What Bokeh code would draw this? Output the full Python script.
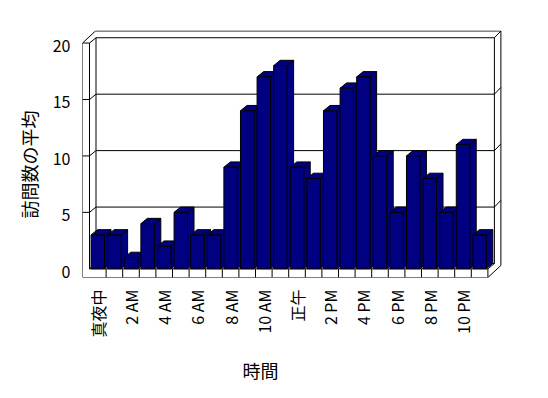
import math
from bokeh.plotting import figure
from bokeh.models import Range1d, FixedTicker, Title, LinearAxis
from bokeh.embed import file_html
from bokeh.resources import INLINE

# ---- data ----
hours = list(range(24))
visits = [3, 3, 1, 4, 2, 5, 3, 3, 9, 14, 17, 18, 9, 8, 14, 16, 17, 10, 5, 10, 8, 5, 11, 3]
tick_positions = [0, 2, 4, 6, 8, 10, 12, 14, 16, 18, 20, 22]
tick_labels = ["真夜中", "2 AM", "4 AM", "6 AM", "8 AM", "10 AM", "正午",
               "2 PM", "4 PM", "6 PM", "8 PM", "10 PM"]
y_ticks = [0, 5, 10, 15, 20]
y_title = "訪問数の平均"
x_title = "時間"

FONT = "Noto Sans CJK JP"
BAR_COLOR = "#000080"

# ---- geometry (pixel sizes converted to data units) ----
N = len(visits)
YMAX = y_ticks[-1]
PXX, PXY = 16.6, 11.7          # pixels per category / per value unit
WL = 7 / PXX                   # left wall thickness
WF = 9 / PXY                   # floor thickness
DX, DY = 6.5 / PXX, 5.5 / PXY  # depth offset
BX, BY = 6.5 / PXX, 7 / PXY    # back wall thickness
BAR_W = 0.81
LABEL_SHIFT = 3 / PXY          # nudge y tick labels down to sit on their lines

x0, x1 = -0.5, N - 0.5
xl = x0 - WL
W, H = 548, 398
LEFT, TOP = 82, 30
FRAME_W, FRAME_H = 420, 256
x_start = xl
x_end = x_start + FRAME_W / PXX
y_start = -WF
y_end = y_start + FRAME_H / PXY

p = figure(width=W, height=H, output_backend="svg", toolbar_location=None,
           x_range=Range1d(x_start, x_end), y_range=Range1d(y_start, y_end),
           y_axis_location=None,
           min_border_left=LEFT, min_border_right=W - LEFT - FRAME_W,
           min_border_top=TOP, min_border_bottom=H - TOP - FRAME_H)
p.extra_y_ranges = {"lab": Range1d(y_start + LABEL_SHIFT, y_end + LABEL_SHIFT)}
p.outline_line_color = None
p.grid.visible = False
p.background_fill_color = "white"
p.border_fill_color = "white"

# ---- box / walls / floor lines ----
T = YMAX
segs = [
    [(xl, T), (xl, -WF)],
    [(x0, T), (x0, 0)],
    [(xl, T), (x0, T)],
    [(xl, T), (xl + DX + BX, T + DY + BY)],
    [(x0, T), (x0 + DX, T + DY)],
    [(x0 + DX, T + DY), (x1 + DX, T + DY)],
    [(xl + DX + BX, T + DY + BY), (x1 + DX + BX, T + DY + BY)],
    [(x0 + DX, T + DY), (x0 + DX, DY)],
    [(x0, 0), (x0 + DX, DY), (x1 + DX, DY)],
    [(x1 + DX, T + DY), (x1 + DX, DY), (x1, 0)],
    [(x1 + DX, T + DY), (x1 + DX + BX, T + DY + BY),
     (x1 + DX + BX, DY + BY - WF), (x1, -WF)],
    [(x0, 0), (x1, 0)],
    [(xl, -WF), (x1, -WF)],
    [(x1, 0), (x1, -WF)],
]
for k in range(1, N):
    segs.append([(x0 + k, 0), (x0 + k, -WF)])
for v in y_ticks[1:-1]:
    segs.append([(xl, v), (x0, v), (x0 + DX, v + DY), (x1 + DX, v + DY),
                 (x1 + DX + BX, v + DY + BY)])

p.multi_line(xs=[[pt[0] for pt in s] for s in segs],
             ys=[[pt[1] for pt in s] for s in segs],
             line_color="black", line_width=1)

# ---- 3D bars (side, top, front for each bar, in order) ----
pxs, pys = [], []
for k, v in zip(hours, visits):
    l, r = k - BAR_W / 2, k + BAR_W / 2
    pxs.append([r, r, r + DX, r + DX]); pys.append([0, v, v + DY, DY])
    pxs.append([l, r, r + DX, l + DX]); pys.append([v, v, v + DY, v + DY])
    pxs.append([l, r, r, l]); pys.append([0, 0, v, v])
p.patches(xs=pxs, ys=pys, fill_color=BAR_COLOR, line_color="black", line_width=1)

# ---- axes ----
xa = p.xaxis[0]
xa.ticker = FixedTicker(ticks=tick_positions)
xa.major_label_overrides = {t: lab for t, lab in zip(tick_positions, tick_labels)}
xa.major_label_orientation = math.pi / 2
xa.axis_line_color = None
xa.major_tick_in = 0
xa.major_tick_out = 0
xa.minor_tick_line_color = None
xa.major_label_standoff = 12
xa.major_label_text_font = FONT
xa.major_label_text_font_size = "16px"
xa.major_label_text_color = "#000000"

ya = LinearAxis(y_range_name="lab", ticker=FixedTicker(ticks=y_ticks))
ya.axis_line_color = None
ya.major_tick_in = 0
ya.major_tick_out = 0
ya.minor_tick_line_color = None
ya.major_label_standoff = 12
ya.major_label_text_font = FONT
ya.major_label_text_font_size = "16px"
ya.major_label_text_color = "#000000"
p.add_layout(ya, "left")

# ---- axis titles ----
p.add_layout(Title(text=y_title, align="left", offset=59, text_font=FONT,
                   text_font_size="18px", text_font_style="normal", text_color="#000000",
                   vertical_align="middle", standoff=14), "left")
p.add_layout(Title(text=x_title, align="left", offset=160, text_font=FONT,
                   text_font_size="18px", text_font_style="normal", text_color="#000000",
                   vertical_align="middle", standoff=30), "below")

open("out.html", "w").write(file_html(p, INLINE))
